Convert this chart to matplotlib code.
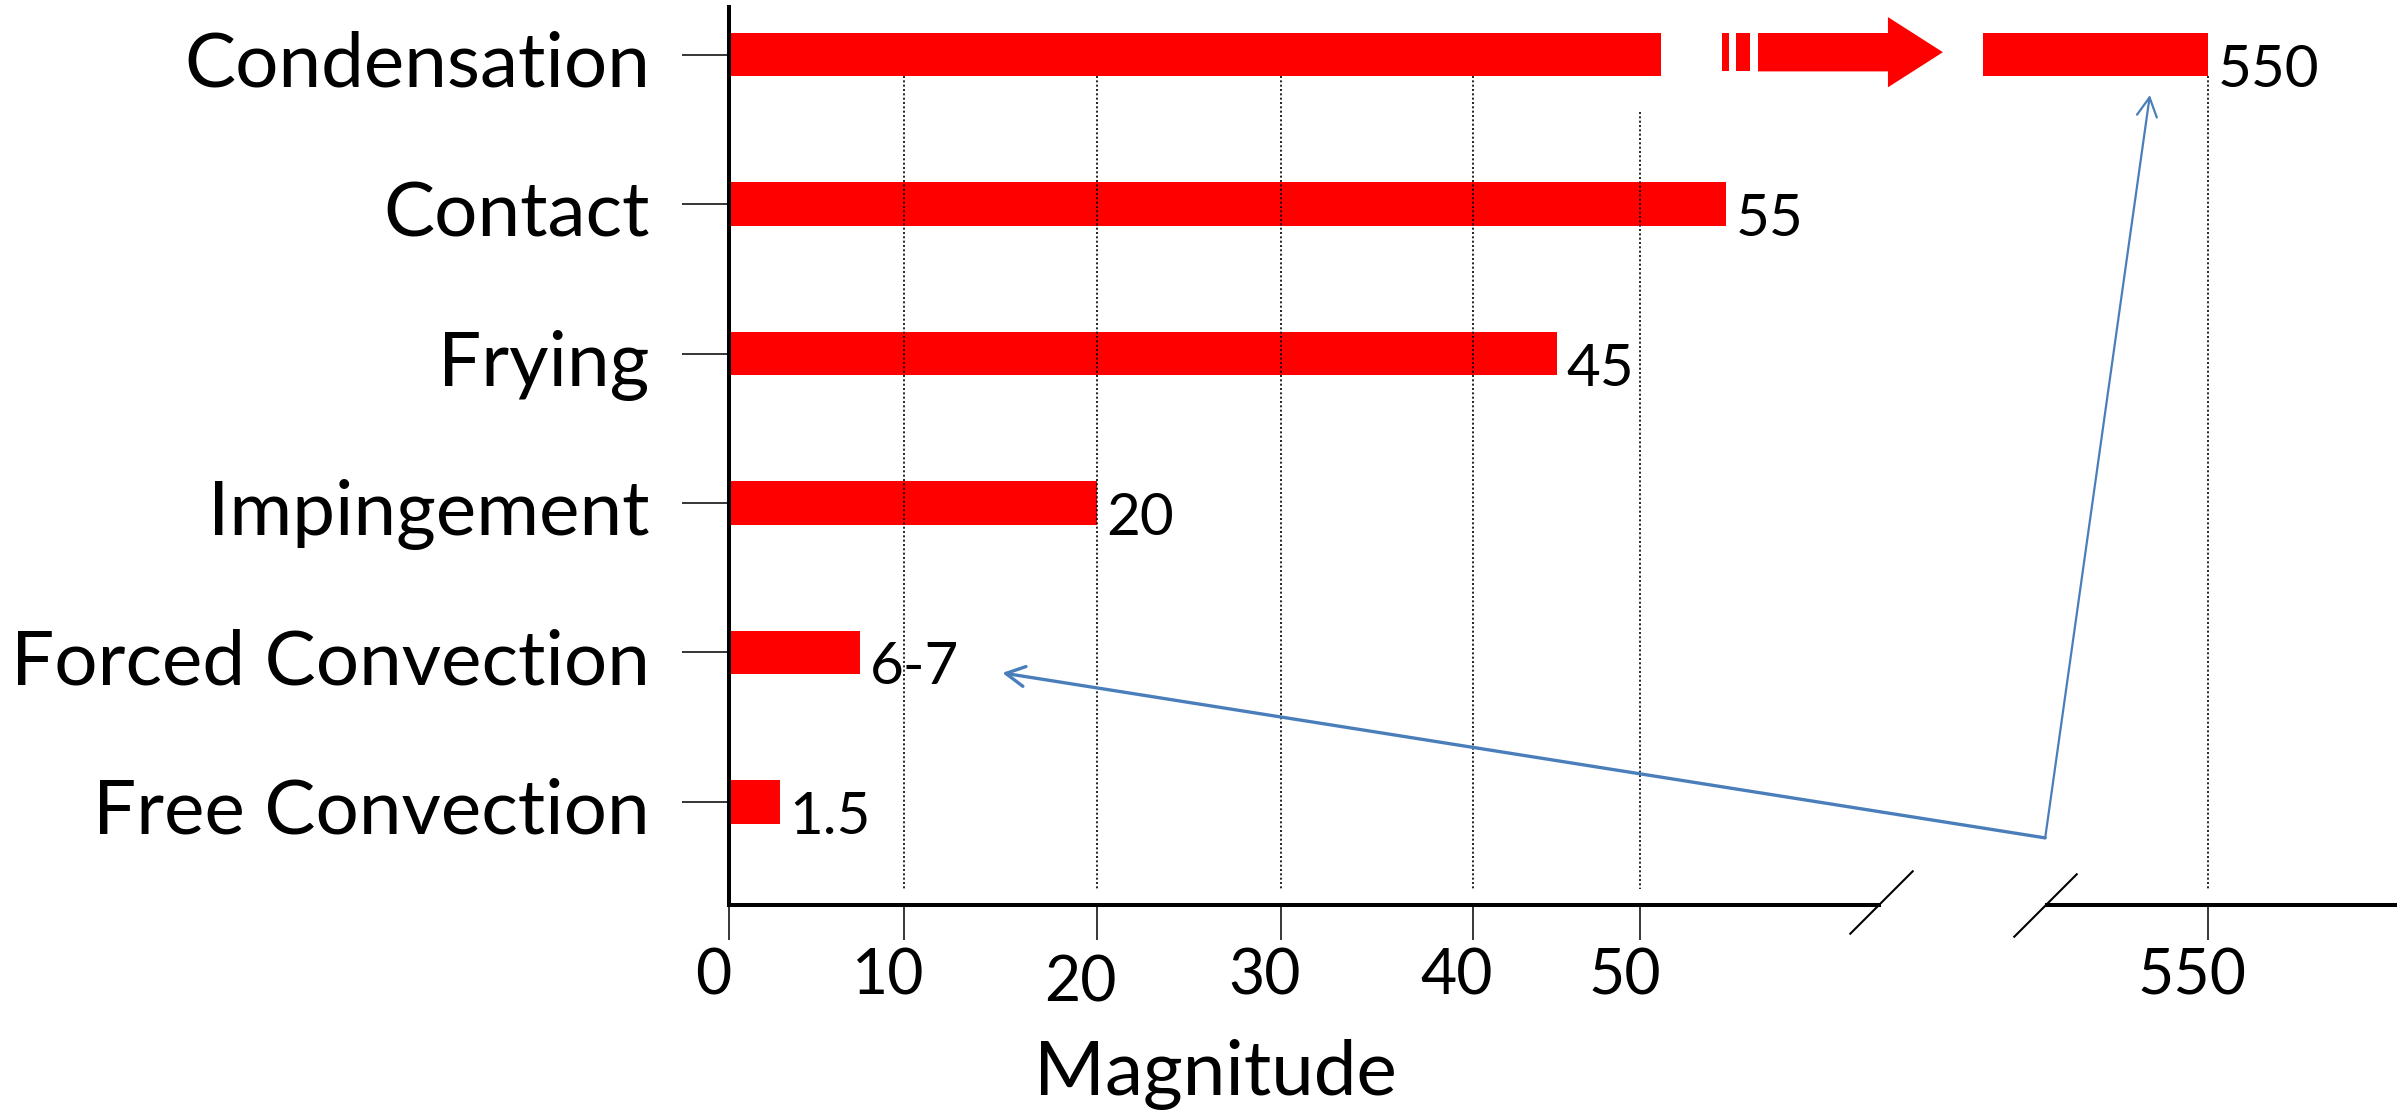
import numpy as np
import matplotlib
matplotlib.use("Agg")
import matplotlib.pyplot as plt
from matplotlib.patches import Rectangle, Polygon
import matplotlib.transforms as mtransforms

plt.rcParams['font.family'] = ['Lato', 'DejaVu Sans']

# ---------------- data ----------------
categories = ['Condensation', 'Contact', 'Frying', 'Impingement',
              'Forced Convection', 'Free Convection']
bar_values = [550, 55, 45, 20, 7.5, 2.9]          # drawn bar lengths
value_labels = ['550', '55', '45', '20', '6-7', '1.5']
xtick_values = [0, 10, 20, 30, 40, 50, 550]
xtick_labels = ['0', '10', '20', '30', '40', '50', '550']
grid_values = [10, 20, 30, 40, 50, 550]
condensation_cut = 51.2        # where the left part of the broken bar stops
axis_break = (64, 540.5)       # gap in the x axis
x_max = 561

# hand-drawn (uneven) axis spacing: value -> position along the axis
SCALE_IN = [0, 10, 20, 30, 40, 50, 64, 540.5, 561]
SCALE_OUT = [0, 175, 368, 552, 744, 912, 1152.8, 1317, 1669]

# annotation arrows (data coordinates)
arrow_corner = (540.44, 5.241)
arrow_tip_left = (15.1, 4.137)
arrow_tip_up = (546.6, 0.27)


def _extrap(x, xs, ys):
    x = np.asarray(x, dtype=float)
    y = np.interp(x, xs, ys)
    lo = (ys[1] - ys[0]) / (xs[1] - xs[0])
    hi = (ys[-1] - ys[-2]) / (xs[-1] - xs[-2])
    y = np.where(x < xs[0], ys[0] + (x - xs[0]) * lo, y)
    y = np.where(x > xs[-1], ys[-1] + (x - xs[-1]) * hi, y)
    return y


def fwd(x):
    return _extrap(x, SCALE_IN, SCALE_OUT)


def inv(x):
    return _extrap(x, SCALE_OUT, SCALE_IN)


RED = '#FF0000'
BLUE = '#4A7EBB'

W, H = 2397, 1110
fig = plt.figure(figsize=(W / 100, H / 100), dpi=100)
ax = fig.add_axes([729 / W, 205 / H, 1 - 729 / W, 898 / H])
ax.set_xscale('function', functions=(fwd, inv))
ax.set_xlim(0, x_max)
ax.set_ylim(5.690, -0.319)

y = np.arange(len(categories))
h = 0.29

# ---------------- bars ----------------
for i, v in enumerate(bar_values):
    if i == 0:
        continue
    ax.barh(y[i], v, height=h, color=RED, zorder=2)

# broken Condensation bar
ax.barh(y[0], condensation_cut, height=h, color=RED, zorder=2)
right_start = float(inv(fwd(bar_values[0]) - 225))
ax.barh(y[0], bar_values[0] - right_start, left=right_start, height=h,
        color=RED, zorder=2)
d0 = float(fwd(condensation_cut))
top = y[0] - h / 2
bot = y[0] + h / 2 - 0.033
for a, b in [(61, 68), (75, 89)]:
    x0, x1 = float(inv(d0 + a)), float(inv(d0 + b))
    ax.add_patch(Polygon([(x0, top), (x1, top), (x1, bot), (x0, bot)],
                         closed=True, color=RED, lw=0, zorder=2))
xs_, xb_, xt_ = float(inv(d0 + 97)), float(inv(d0 + 227)), float(inv(d0 + 282))
mid = (top + bot) / 2
ax.add_patch(Polygon([(xs_, top), (xb_, top), (xb_, mid - 0.235), (xt_, mid),
                      (xb_, mid + 0.235), (xb_, bot), (xs_, bot)],
                     closed=True, color=RED, lw=0, zorder=2))

# ---------------- gridlines ----------------
for g in grid_values:
    ystart = 0.383 if g == 50 else y[0] + h / 2
    ax.vlines(g, ystart, 5.583, colors='black', linestyles=(0, (1.2, 1.4)),
              lw=1.2, zorder=3)

# ---------------- value labels ----------------
for i, (v, lab) in enumerate(zip(bar_values, value_labels)):
    ax.annotate(lab, xy=(v, y[i]), xytext=(7, -23), textcoords='offset points',
                ha='left', va='baseline', fontsize=42, color='black',
                annotation_clip=False, zorder=4)

# ---------------- axes ----------------
for s in ['top', 'right', 'bottom']:
    ax.spines[s].set_visible(False)
ax.spines['left'].set_linewidth(2.9)
ax.spines['left'].set_color('black')

trans = ax.get_xaxis_transform()
ax.plot([0, axis_break[0]], [0, 0], transform=trans, color='black', lw=2.9,
        clip_on=False, solid_capstyle='butt', zorder=5)
ax.plot([axis_break[1], x_max], [0, 0], transform=trans, color='black', lw=2.9,
        clip_on=False, solid_capstyle='butt', zorder=5)
ax.plot(list(axis_break), [0.003, 0.0], transform=trans, ls='none',
        marker=[(-1, -1), (1, 1)], ms=46, mew=1.5, mec='black', clip_on=False,
        zorder=5)

ax.set_xticks(xtick_values, xtick_labels)
ax.tick_params(axis='x', which='major', direction='out', length=25, width=1.1,
               pad=5.5, labelsize=45, color='black')
ax.set_xticks(grid_values, minor=True)
ax.tick_params(axis='x', which='minor', direction='in', length=11.5, width=1.1)

ax.set_yticks(y, categories)
ax.tick_params(axis='y', direction='out', length=34, width=1.1, pad=23,
               labelsize=55, color='black')

ax.set_xlabel('Magnitude', fontsize=55, va='baseline')
ax.xaxis.set_label_coords(0.2914, -0.2116)

# label nudges to follow the hand-placed text
for t in ax.xaxis.get_major_ticks():
    dy = -7 if t.label1.get_text() == '20' else 0
    off = mtransforms.ScaledTranslation(-16 / 100, dy / 100, fig.dpi_scale_trans)
    t.label1.set_transform(t.label1.get_transform() + off)
for t in ax.yaxis.get_major_ticks():
    off = mtransforms.ScaledTranslation(0, -4 / 100, fig.dpi_scale_trans)
    t.label1.set_transform(t.label1.get_transform() + off)

# ---------------- blue arrows ----------------
style = '->,head_length=0.68,head_width=0.36'
ax.annotate('', xy=arrow_tip_left, xytext=arrow_corner,
            arrowprops=dict(arrowstyle=style, color=BLUE, lw=2.4, shrinkA=0,
                            shrinkB=0, mutation_scale=20),
            annotation_clip=False, zorder=6)
ax.annotate('', xy=arrow_tip_up, xytext=arrow_corner,
            arrowprops=dict(arrowstyle=style, color=BLUE, lw=1.6, shrinkA=0,
                            shrinkB=0, mutation_scale=20),
            annotation_clip=False, zorder=6)

fig.savefig('out.png', dpi=100)
